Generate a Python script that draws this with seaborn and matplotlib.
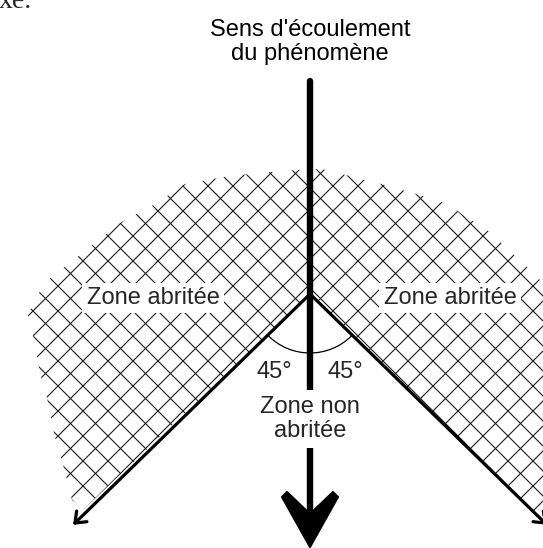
import numpy as np
import pandas as pd
import matplotlib
matplotlib.use("Agg")
import matplotlib.pyplot as plt
import seaborn as sns
from matplotlib.patches import Polygon, Arc

# ---- diagram geometry (pixel coordinates of the reference) ----
apex_x, apex_y = 310, 294
flow_x = [310, 310]
flow_y = [81, 514]
left_diag_x = [310, 75]
left_diag_y = [294, 523]
right_diag_x = [310, 545]
right_diag_y = [294, 523]

# outline of the sheltered (hatched) zone
zone_x = [310, 84, 72, 65, 55, 47, 40, 33, 28, 36, 50, 80, 120, 157, 185, 230, 272,
          297, 322, 385, 423, 445, 490, 530, 545, 558, 565, 568, 565, 556]
zone_y = [294, 509, 500, 472, 437, 398, 373, 335, 315, 297, 278, 255, 223, 203, 184, 176, 172,
          170, 169, 185, 196, 203, 232, 270, 285, 310, 360, 420, 480, 534]

head_x = [310, 282, 287, 310, 333, 338]
head_y = [547, 497, 492, 514, 492, 497]

hatch_step = 25
hatch_phase_a = -278   # x - y = const
hatch_phase_b = 494    # x + y = const

labels_title = "Sens d'écoulement\ndu phénomène"
label_shelter = "Zone abritée"
label_open = "Zone non\nabritée"
label_angle = "45°"

sns.set_theme(style="white")
plt.rcParams['font.family'] = ['Liberation Sans', 'DejaVu Sans']

fig = plt.figure(figsize=(5.43, 5.48), dpi=100)
ax = fig.add_axes([0, 0, 1, 1])
ax.set_xlim(0, 543)
ax.set_ylim(548, 0)
ax.axis("off")
fig.patch.set_facecolor("white")

# hatched zone
zone = Polygon(np.column_stack([zone_x, zone_y]), closed=True, facecolor="none",
               edgecolor="none")
ax.add_patch(zone)
xs = np.array([-100, 700])
for k in range(-40, 40):
    c = hatch_phase_a + k * hatch_step
    ln, = ax.plot(xs, xs - c, color="#1a1a1a", lw=0.8, zorder=1)
    ln.set_clip_path(zone)
    s = hatch_phase_b + k * hatch_step
    ln, = ax.plot(xs, s - xs, color="#1a1a1a", lw=0.8, zorder=1)
    ln.set_clip_path(zone)

# main lines
df_flow = pd.DataFrame({"x": flow_x, "y": flow_y})
sns.lineplot(data=df_flow, x="x", y="y", sort=False, estimator=None, color="black",
             lw=4.6, ax=ax, zorder=3, solid_capstyle="round")
for dx, dy in [(left_diag_x, left_diag_y), (right_diag_x, right_diag_y)]:
    d = pd.DataFrame({"x": dx, "y": dy})
    sns.lineplot(data=d, x="x", y="y", sort=False, estimator=None, color="black",
                 lw=2.3, ax=ax, zorder=3, solid_capstyle="round")
    # small open arrow head
    tip = np.array([dx[1], dy[1]], float)
    back = np.array([dx[0] - dx[1], dy[0] - dy[1]], float)
    back /= np.linalg.norm(back)
    for ang in (np.radians(38), -np.radians(38)):
        r = np.array([[np.cos(ang), -np.sin(ang)], [np.sin(ang), np.cos(ang)]])
        end = tip + 12 * r @ back
        ax.plot([tip[0], end[0]], [tip[1], end[1]], color="black", lw=2.3,
                solid_capstyle="round", zorder=3)

# big arrow head
ax.add_patch(Polygon(np.column_stack([head_x, head_y]), closed=True, facecolor="black",
                     edgecolor="black", lw=1.5, joinstyle="round", zorder=4))

# angle arc
ax.add_patch(Arc((apex_x, apex_y), 118, 118, theta1=45, theta2=135, color="black",
                 lw=0.9, zorder=3))

# texts
ax.text(310, 42, labels_title, ha="center", va="center", fontsize=17, linespacing=1.1,
        color="black", zorder=5)
box = dict(facecolor="white", edgecolor="none", pad=3)
ax.text(153, 298, label_shelter, ha="center", va="center", fontsize=17, bbox=box, zorder=5)
ax.text(450, 298, label_shelter, ha="center", va="center", fontsize=17, bbox=box, zorder=5)
ax.text(274, 372, label_angle, ha="center", va="center", fontsize=17, zorder=5)
ax.text(345, 372, label_angle, ha="center", va="center", fontsize=17, zorder=5)
ax.text(310, 419, label_open, ha="center", va="center", fontsize=17, linespacing=1.1,
        bbox=dict(facecolor="white", edgecolor="none", pad=4), zorder=5)
ax.text(-1, 8, "xe.", ha="left", va="baseline", fontsize=20,
        family=["Liberation Serif", "DejaVu Serif"], zorder=5)

fig.savefig("out.png", dpi=100, facecolor="white")
